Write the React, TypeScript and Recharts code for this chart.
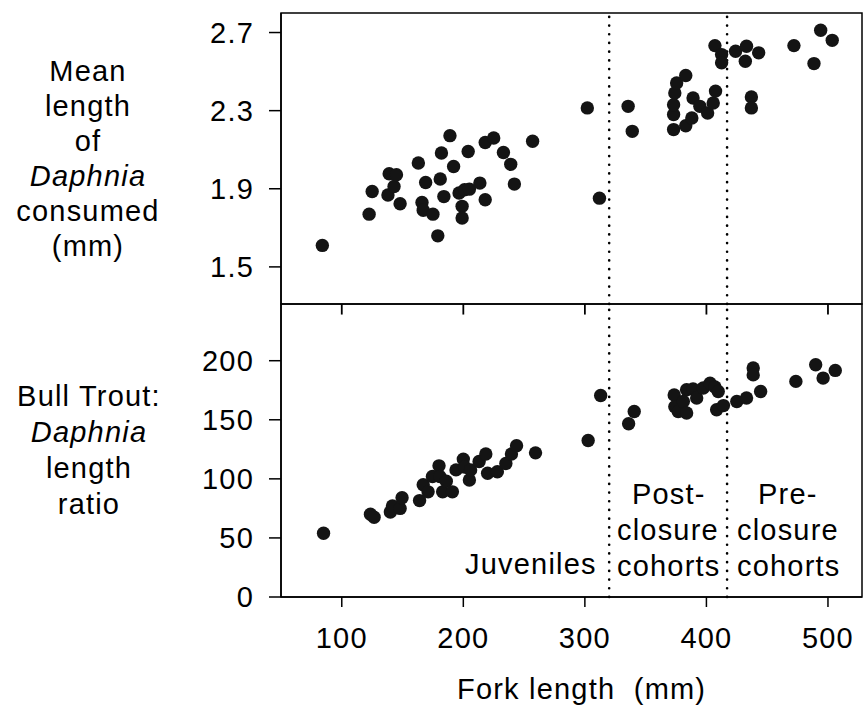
import React from 'react';
import { ScatterChart, Scatter, XAxis, YAxis, ReferenceLine, ReferenceArea } from 'recharts';

// ---- data ----
const forkTop = [84, 122.5, 125, 138, 139, 143, 145, 148, 163, 166, 167, 169, 175, 179, 181, 182, 184, 189, 192, 196.5, 199, 199, 201, 204, 205, 213.6, 218, 218, 225, 233, 239, 242, 257,
  302, 312, 335.6, 339, 373, 373, 373, 374, 375.5, 383, 383, 388, 389, 394.6, 401, 405.6, 407.5, 407, 412.5, 412.5, 424, 433, 432, 443, 437, 437, 472, 494, 503.5, 488.5];
const meanLength = [1.61, 1.77, 1.886, 1.868, 1.977, 1.912, 1.972, 1.823, 2.032, 1.83, 1.79, 1.932, 1.77, 1.659, 1.95, 2.083, 1.86, 2.172, 2.014, 1.878, 1.81, 1.75, 1.895, 2.091, 1.898, 1.929, 1.844, 2.137, 2.16, 2.086, 2.025, 1.924, 2.143,
  2.314, 1.852, 2.322, 2.194, 2.203, 2.28, 2.33, 2.39, 2.442, 2.48, 2.223, 2.262, 2.365, 2.322, 2.288, 2.339, 2.4, 2.633, 2.587, 2.545, 2.604, 2.63, 2.553, 2.596, 2.37, 2.314, 2.633, 2.712, 2.66, 2.541];

const forkBottom = [85, 123.6, 126.6, 140, 141.7, 148, 149.6, 164, 167, 171, 174.6, 180, 180.7, 183, 186, 191, 194, 200, 201, 205, 206, 213, 218.5, 220, 228, 235, 239.6, 243.8, 259.4,
  302.7, 313, 336, 340.6, 373.5, 374, 376.8, 383.7, 381, 383.7, 389, 392, 397.4, 403, 407, 409.7, 408.4, 414, 425, 433, 444.6, 438.5, 438.5, 473.6, 489.9, 496, 506];
const lengthRatio = [54, 70, 67.5, 72, 77, 75, 84, 81.6, 95, 89, 102, 111, 102, 89, 98, 89, 107.6, 116.7, 110, 99, 107.6, 114.7, 121, 104.8, 106, 113, 121, 128, 122,
  132.5, 170.6, 146.6, 157, 171, 161, 157, 175.4, 165.5, 155.7, 176, 168.4, 176.9, 181, 177.7, 174, 158.5, 162, 165.5, 168.4, 174, 193.8, 188, 182.5, 196.6, 185.3, 191.8];

const xTicks = [100, 200, 300, 400, 500];
const meanTicks = [1.5, 1.9, 2.3, 2.7];
const ratioTicks = [0, 50, 100, 150, 200];
const boundaries = [320, 417];
const xDomain = [50, 528];
const meanDomain = [1.31, 2.8];
const ratioDomain = [0, 248];

const topData = forkTop.map((x, i) => ({ x, y: meanLength[i] }));
const bottomData = forkBottom.map((x, i) => ({ x, y: lengthRatio[i] }));

const FONT = '"Liberation Sans", Arial, Helvetica, sans-serif';
const FS = 29;
const LS = 1.2;
const tickStyle = { fill: '#000', fontSize: FS, fontFamily: FONT, letterSpacing: LS };
// inward tick length at the top of the lower panel, as a fraction of its y range
const INNER_TICK_FRAC = 0.036;

const Dot = (props: any) => {
  const { cx, cy } = props;
  if (cx == null || cy == null) return <g />;
  return <circle cx={cx} cy={cy} r={6.7} fill="#141414" />;
};

const txt = { fill: '#000', fontSize: FS, fontFamily: FONT, letterSpacing: LS } as any;

const TopYLabel = () => (
  <text textAnchor="middle" {...txt}>
    <tspan x={88} y={81}>Mean</tspan>
    <tspan x={88} y={116}>length</tspan>
    <tspan x={88} y={151}>of</tspan>
    <tspan x={88} y={186} fontStyle="italic">Daphnia</tspan>
    <tspan x={88} y={221}>consumed</tspan>
    <tspan x={88} y={256}>(mm)</tspan>
  </text>
);

const BottomYLabel = () => (
  <text textAnchor="middle" {...txt}>
    <tspan x={89} y={406}>Bull Trout:</tspan>
    <tspan x={89} y={442} fontStyle="italic">Daphnia</tspan>
    <tspan x={89} y={478}>length</tspan>
    <tspan x={89} y={514}>ratio</tspan>
  </text>
);

const XLabel = () => (
  <text x={457} y={699} {...txt} style={{ whiteSpace: 'pre' }}>
    {'Fork length  (mm)'}
  </text>
);

const dotLine = { stroke: '#000', strokeWidth: 2.6, strokeDasharray: '0.1 8.6', strokeLinecap: 'round' as const };
const axisLineStyle = { stroke: '#000', strokeWidth: 1.5 };
const yTop = ratioDomain[1];
const yInner = ratioDomain[1] - (ratioDomain[1] - ratioDomain[0]) * INNER_TICK_FRAC;

export default function App() {
  return (
    <div style={{ position: 'absolute', left: 0, top: 0, width: 864, height: 712, background: '#fff' }}>
      <div style={{ position: 'absolute', left: 0, top: 0 }}>
        <ScatterChart width={864} height={712} margin={{ top: 13, right: 2, bottom: 408, left: 0 }}>
          <XAxis type="number" dataKey="x" domain={xDomain} ticks={xTicks} hide allowDataOverflow />
          <YAxis type="number" dataKey="y" domain={meanDomain} ticks={meanTicks} width={281}
            tickSize={12} tickMargin={15} tick={tickStyle} tickFormatter={(v: number) => v.toFixed(1)}
            axisLine={axisLineStyle} tickLine={axisLineStyle}
            allowDataOverflow label={{ content: () => <TopYLabel /> }} />
          <ReferenceArea x1={xDomain[0]} x2={xDomain[1]} y1={meanDomain[0]} y2={meanDomain[1]}
            fill="none" fillOpacity={0} stroke="#000" strokeWidth={1.5} />
          {boundaries.map((b) => <ReferenceLine key={b} x={b} {...dotLine} />)}
          <Scatter data={topData} shape={<Dot />} isAnimationActive={false} />
        </ScatterChart>
      </div>
      <div style={{ position: 'absolute', left: 0, top: 0 }}>
        <ScatterChart width={864} height={712} margin={{ top: 304, right: 2, bottom: 0, left: 0 }}>
          <XAxis type="number" dataKey="x" domain={xDomain} ticks={xTicks} height={115}
            tickSize={10} tickMargin={20} tick={tickStyle}
            axisLine={axisLineStyle} tickLine={axisLineStyle}
            allowDataOverflow label={{ content: () => <XLabel /> }} />
          <YAxis type="number" dataKey="y" domain={ratioDomain} ticks={ratioTicks} width={281}
            tickSize={12} tickMargin={15} tick={tickStyle}
            axisLine={axisLineStyle} tickLine={axisLineStyle}
            allowDataOverflow label={{ content: () => <BottomYLabel /> }} />
          <ReferenceArea x1={xDomain[0]} x2={xDomain[1]} y1={ratioDomain[0]} y2={ratioDomain[1]}
            fill="none" fillOpacity={0} stroke="#000" strokeWidth={1.5} />
          {xTicks.map((t) => (
            <ReferenceLine key={'it' + t} segment={[{ x: t, y: yTop }, { x: t, y: yInner }]}
              stroke="#000" strokeWidth={1.8} />
          ))}
          {boundaries.map((b) => <ReferenceLine key={b} x={b} {...dotLine} />)}
          <Scatter data={bottomData} shape={<Dot />} isAnimationActive={false} />
          <text x={465} y={574} {...txt}>Juveniles</text>
          <text x={632} y={504} {...txt}>Post-</text>
          <text x={617} y={540} {...txt}>closure</text>
          <text x={617} y={576} {...txt}>cohorts</text>
          <text x={758} y={504} {...txt}>Pre-</text>
          <text x={737} y={540} {...txt}>closure</text>
          <text x={737} y={576} {...txt}>cohorts</text>
        </ScatterChart>
      </div>
    </div>
  );
}
